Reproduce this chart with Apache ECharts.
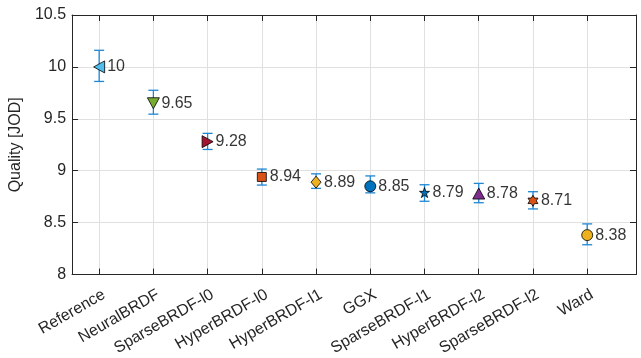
<!DOCTYPE html>
<html>
<head>
<meta charset="utf-8">
<script src="https://cdn.jsdelivr.net/npm/echarts@6/dist/echarts.min.js"></script>
<style>
  html, body { margin: 0; padding: 0; background: #ffffff; }
  #chart { width: 641px; height: 358px; }
</style>
</head>
<body>
<div id="chart"></div>
<script>
// Methods compared, their mean quality score and the confidence interval bounds
const methods = ['Reference', 'NeuralBRDF', 'SparseBRDF-l0', 'HyperBRDF-l0', 'HyperBRDF-l1',
                 'GGX', 'SparseBRDF-l1', 'HyperBRDF-l2', 'SparseBRDF-l2', 'Ward'];
const quality = [10, 9.65, 9.28, 8.94, 8.89, 8.85, 8.79, 8.78, 8.71, 8.38];
const ciLow  = [9.86, 9.545, 9.205, 8.862, 8.83, 8.787, 8.706, 8.692, 8.632, 8.287];
const ciHigh = [10.16, 9.775, 9.36, 9.016, 8.97, 8.95, 8.865, 8.878, 8.798, 8.488];
const yTicks = [8, 8.5, 9, 9.5, 10, 10.5];

// Marker style for each method
const PENTAGRAM = 'path://M0,-1L0.2245,-0.309L0.951,-0.309L0.363,0.118L0.588,0.809L0,0.382L-0.588,0.809L-0.363,0.118L-0.951,-0.309L-0.2245,-0.309Z';
const HEXAGRAM = 'path://M0,-1L0.2887,-0.5L0.866,-0.5L0.577,0L0.866,0.5L0.2887,0.5L0,1L-0.2887,0.5L-0.866,0.5L-0.577,0L-0.866,-0.5L-0.2887,-0.5Z';
const markerStyles = [
  { symbol: 'triangle', rotate: 90,  size: [12, 11], color: '#4DBEEE' },
  { symbol: 'triangle', rotate: 180, size: [12, 11], color: '#77AC30' },
  { symbol: 'triangle', rotate: -90, size: [12, 11], color: '#A2142F' },
  { symbol: 'rect',     rotate: 0,   size: [9, 9],   color: '#D95319' },
  { symbol: 'diamond',  rotate: 0,   size: [10, 12], color: '#EDB120' },
  { symbol: 'circle',   rotate: 0,   size: [11, 11], color: '#0072BD' },
  { symbol: PENTAGRAM,  rotate: 0,   size: [10, 10], color: '#0072BD' },
  { symbol: 'triangle', rotate: 0,   size: [12, 11], color: '#7E2F8E' },
  { symbol: HEXAGRAM,   rotate: 0,   size: [10, 11], color: '#D95319' },
  { symbol: 'circle',   rotate: 0,   size: [11, 11], color: '#EDB120' }
];

const FONT = '"Liberation Sans", Arial, Helvetica, sans-serif';
const INK = '#262626';
const GRID = '#e0e0e0';
const ERR = '#1f86d3';
const positions = methods.map((_, i) => i + 1);
// rotated category labels sit slightly right of their tick
const labelAnchors = positions.map(p => p + 0.09);

const chart = echarts.init(document.getElementById('chart'), null, { renderer: 'canvas' });

const errData = methods.map((_, i) => [positions[i], ciLow[i], ciHigh[i]]);
const pointData = methods.map((_, i) => {
  const m = markerStyles[i];
  return {
    value: [positions[i], quality[i]],
    symbol: m.symbol,
    symbolSize: m.size,
    symbolRotate: m.rotate,
    itemStyle: { color: m.color, borderColor: '#000000', borderWidth: 0.8, opacity: 1 }
  };
});
const labelData = methods.map((_, i) => [positions[i], quality[i]]);

const option = {
  animation: false,
  backgroundColor: '#ffffff',
  textStyle: { fontFamily: FONT },
  grid: { left: 67, right: 5, top: 15, bottom: 82, containLabel: false },
  xAxis: [
    {
      type: 'value', position: 'bottom', min: 0.5, max: 10.9,
      axisLine: { show: true, lineStyle: { color: INK, width: 1 } },
      axisTick: { show: true, inside: true, length: 6, customValues: positions, lineStyle: { color: INK } },
      axisLabel: {
        customValues: labelAnchors, rotate: 30, margin: 19,
        fontSize: 16, color: INK, fontFamily: FONT,
        formatter: v => methods[Math.round(v) - 1]
      },
      splitLine: { show: true, lineStyle: { color: GRID, width: 1 } }
    },
    {
      type: 'value', position: 'top', min: 0.5, max: 10.9,
      axisLine: { show: true, onZero: false, lineStyle: { color: INK, width: 1 } },
      axisTick: { show: true, inside: true, length: 6, customValues: positions, lineStyle: { color: INK } },
      axisLabel: { show: false },
      splitLine: { show: false }
    }
  ],
  yAxis: [
    {
      type: 'value', position: 'left', min: yTicks[0], max: yTicks[yTicks.length - 1], interval: 0.5,
      name: 'Quality [JOD]', nameLocation: 'middle', nameGap: 44,
      nameTextStyle: { fontSize: 16, color: INK, fontFamily: FONT },
      axisLine: { show: true, lineStyle: { color: INK, width: 1 } },
      axisTick: { show: true, inside: true, length: 6, lineStyle: { color: INK } },
      axisLabel: { fontSize: 16, color: INK, margin: 6, fontFamily: FONT, formatter: v => String(v) },
      splitLine: { show: true, lineStyle: { color: GRID, width: 1 } }
    },
    {
      type: 'value', position: 'right', min: yTicks[0], max: yTicks[yTicks.length - 1], interval: 0.5,
      axisLine: { show: true, onZero: false, lineStyle: { color: INK, width: 1 } },
      axisTick: { show: true, inside: true, length: 6, lineStyle: { color: INK } },
      axisLabel: { show: false },
      splitLine: { show: false }
    }
  ],
  series: [
    {
      type: 'custom',
      name: 'interval',
      xAxisIndex: 0, yAxisIndex: 0,
      z: 2,
      data: errData,
      renderItem: (params, api) => {
        const x = api.value(0);
        const lo = api.coord([x, api.value(1)]);
        const hi = api.coord([x, api.value(2)]);
        const hw = 5;
        const st = { stroke: ERR, lineWidth: 1.3 };
        return {
          type: 'group',
          children: [
            { type: 'line', shape: { x1: lo[0], y1: lo[1], x2: hi[0], y2: hi[1] }, style: st },
            { type: 'line', shape: { x1: lo[0] - hw, y1: lo[1], x2: lo[0] + hw, y2: lo[1] }, style: st },
            { type: 'line', shape: { x1: hi[0] - hw, y1: hi[1], x2: hi[0] + hw, y2: hi[1] }, style: st }
          ]
        };
      }
    },
    {
      type: 'scatter',
      name: 'quality',
      xAxisIndex: 0, yAxisIndex: 0,
      z: 3,
      data: pointData
    },
    {
      // value text beside each marker
      type: 'scatter',
      name: 'quality-label',
      xAxisIndex: 0, yAxisIndex: 0,
      z: 4,
      silent: true,
      symbol: 'circle',
      symbolSize: 0,
      itemStyle: { color: 'rgba(0,0,0,0)' },
      data: labelData,
      label: {
        show: true,
        position: 'right',
        distance: 8,
        fontSize: 16,
        color: '#000000',
        fontFamily: FONT,
        formatter: p => String(p.value[1])
      }
    }
  ]
};

chart.setOption(option);
</script>
</body>
</html>
